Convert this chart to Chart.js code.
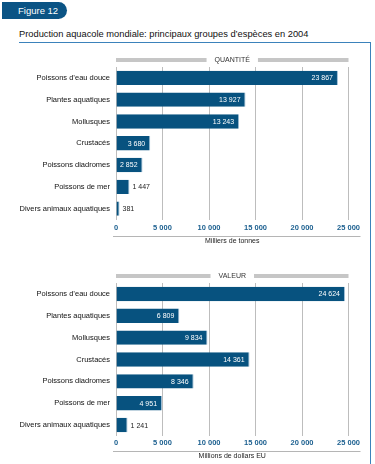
<!DOCTYPE html>
<html>
<head>
<meta charset="utf-8">
<script src="https://cdn.jsdelivr.net/npm/chart.js@4"></script>
<style>
  body { margin: 0; background: #fff; width: 375px; height: 464px; position: relative; overflow: hidden; font-family: "Liberation Sans", Arial, sans-serif; }
  #tab { position: absolute; left: 2px; top: 2px; width: 65px; height: 17px; background: #0b5485; border-radius: 0 9px 9px 0; color: #fff; font-size: 9.5px; line-height: 17px; padding-left: 16px; box-sizing: border-box; }
  #title { position: absolute; left: 19px; top: 29px; font-size: 9.3px; color: #111; white-space: nowrap; }
  #frame { position: absolute; left: 19px; top: 42px; width: 351px; height: 430px; border-top: 1.5px solid #3b82bb; border-right: 1.5px solid #3b82bb; }
  canvas { position: absolute; left: 0; }
  #c1 { top: 50px; }
  #c2 { top: 262px; }
</style>
</head>
<body>
<div id="tab">Figure 12</div>
<div id="title">Production aquacole mondiale: principaux groupes d’espèces en 2004</div>
<div id="frame"></div>
<canvas id="c1" width="375" height="205"></canvas>
<canvas id="c2" width="375" height="202"></canvas>
<script>
var categories = ['Poissons d’eau douce', 'Plantes aquatiques', 'Mollusques', 'Crustacés', 'Poissons diadromes', 'Poissons de mer', 'Divers animaux aquatiques'];
var quantite = [23867, 13927, 13243, 3680, 2852, 1447, 381];
var valeur = [24624, 6809, 9834, 14361, 8346, 4951, 1241];
var xTicks = [0, 5000, 10000, 15000, 20000, 25000];

var barColor = '#07527f';
var fontFamily = '"Liberation Sans", Arial, sans-serif';

function fmt(v) {
  return String(v).replace(/\B(?=(\d{3})+(?!\d))/g, ' ');
}

// gray header with centered label, value labels on bars, axis line + title
var decor = {
  id: 'decor',
  afterDatasetsDraw: function (chart, args, opts) {
    var ctx = chart.ctx;
    var area = chart.chartArea;
    var x = chart.scales.x;
    ctx.save();

    // header
    ctx.font = '7px ' + fontFamily;
    var cx = (area.left + area.right) / 2;
    var w = ctx.measureText(opts.header).width;
    var hy = area.top - 7;
    ctx.fillStyle = '#c6c6c6';
    ctx.fillRect(area.left, hy - 2, cx - w / 2 - 8 - area.left, 4);
    ctx.fillRect(cx + w / 2 + 8, hy - 2, area.right - (cx + w / 2 + 8), 4);
    ctx.fillStyle = '#333';
    ctx.textAlign = 'center';
    ctx.textBaseline = 'middle';
    ctx.fillText(opts.header, cx, hy + 0.5);

    // value labels
    var meta = chart.getDatasetMeta(0);
    var data = chart.data.datasets[0].data;
    ctx.font = '7px ' + fontFamily;
    meta.data.forEach(function (bar, i) {
      var txt = fmt(data[i]);
      var tw = ctx.measureText(txt).width;
      var bw = bar.x - bar.base;
      if (tw + 8 < bw) {
        ctx.fillStyle = '#fff';
        ctx.textAlign = 'right';
        ctx.fillText(txt, bar.x - 5, bar.y + 0.5);
      } else {
        ctx.fillStyle = '#222';
        ctx.textAlign = 'left';
        ctx.fillText(txt, bar.x + 3, bar.y + 0.5);
      }
    });

    // axis line and axis title
    ctx.strokeStyle = '#b5b5b5';
    ctx.lineWidth = 1;
    ctx.beginPath();
    ctx.moveTo(area.left - 3, area.bottom + opts.lineGap + 0.5);
    ctx.lineTo(area.right + 12, area.bottom + opts.lineGap + 0.5);
    ctx.stroke();
    ctx.fillStyle = '#222';
    ctx.textAlign = 'center';
    ctx.font = '7px ' + fontFamily;
    ctx.fillText(opts.axisTitle, x.getPixelForValue(12500), area.bottom + opts.lineGap + 5);
    ctx.restore();
  }
};

function makeChart(id, values, header, axisTitle, top, xHeight, tickPad, lineGap) {
  return new Chart(document.getElementById(id), {
    type: 'bar',
    data: {
      labels: categories,
      datasets: [{
        data: values,
        backgroundColor: barColor,
        borderColor: '#9fbfd6',
        borderWidth: { right: 1 },
        borderSkipped: false,
        categoryPercentage: 1,
        barPercentage: 0.66
      }]
    },
    options: {
      indexAxis: 'y',
      responsive: false,
      animation: false,
      devicePixelRatio: 1,
      layout: { padding: { top: top, right: 26.5, left: 0, bottom: 0 } },
      plugins: {
        legend: { display: false },
        tooltip: { enabled: false },
        decor: { header: header, axisTitle: axisTitle, lineGap: lineGap }
      },
      scales: {
        x: {
          min: 0,
          max: 25000,
          afterFit: function (s) { s.height = xHeight; },
          afterBuildTicks: function (s) { s.ticks = xTicks.map(function (v) { return { value: v }; }); },
          grid: { color: '#bdbdbd', lineWidth: 1, drawTicks: false },
          border: { display: false },
          ticks: {
            padding: tickPad,
            color: '#1b5f8f',
            font: { family: fontFamily, size: 7.5, weight: 'bold' },
            callback: function (v) { return fmt(v); }
          }
        },
        y: {
          afterFit: function (s) { s.width = 116; },
          grid: { display: false, drawTicks: false },
          border: { display: false },
          ticks: {
            padding: 6,
            color: '#111',
            font: { family: fontFamily, size: 7.5 }
          }
        }
      }
    },
    plugins: [decor]
  });
}

makeChart('c1', quantite, 'QUANTITÉ', 'Milliers de tonnes', 17, 35.5, 4, 16.5);
makeChart('c2', valeur, 'VALEUR', 'Millions de dollars EU', 21, 28, 2.5, 15);
</script>
</body>
</html>
